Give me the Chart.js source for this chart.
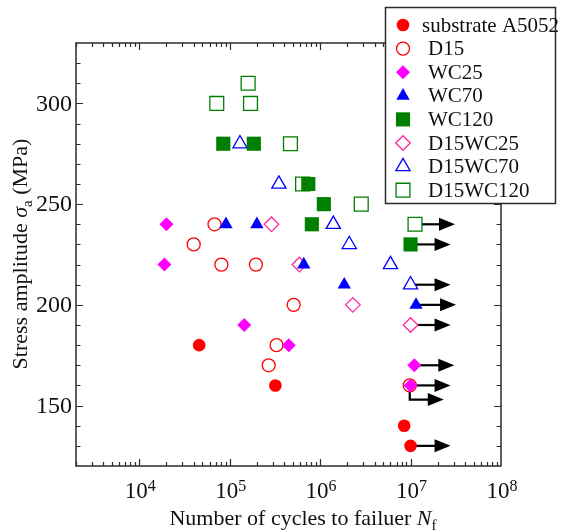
<!DOCTYPE html>
<html>
<head>
<meta charset="utf-8">
<script src="https://cdn.jsdelivr.net/npm/chart.js@4.4.0/dist/chart.umd.min.js"></script>
<style>
  html, body { margin: 0; padding: 0; background: #fff; }
  #wrap { width: 566px; height: 530px; }
</style>
</head>
<body>
<div id="wrap"><canvas id="snChart" width="566" height="530"></canvas></div>
<script>
// series names (legend order)
const seriesNames = ['substrate A5052', 'D15', 'WC25', 'WC70', 'WC120', 'D15WC25', 'D15WC70', 'D15WC120'];

// cycles to failure N_f and stress amplitude (MPa), one pair of arrays per series
const substrateN = [4.6e4, 3.2e5, 8.5e6, 1.0e7];
const substrateS = [180, 160, 140, 130];
const d15N = [6.8e4, 4.0e4, 8.1e4, 1.95e5, 5.1e5, 3.3e5, 2.7e5, 9.8e6];
const d15S = [240, 230, 220, 220, 200, 180, 170, 160];
const wc25N = [2.0e4, 1.9e4, 1.45e5, 4.5e5, 1.1e7, 1.0e7];
const wc25S = [240, 220, 190, 180, 170, 160];
const wc70N = [9.1e4, 2.0e5, 6.6e5, 1.85e6, 1.15e7];
const wc70S = [240, 240, 220, 210, 200];
const wc120N = [8.5e4, 1.85e5, 7.4e5, 1.1e6, 8.1e5, 1.0e7];
const wc120S = [280, 280, 260, 250, 240, 230];
const d15wc25N = [2.9e5, 5.9e5, 2.3e6, 1.0e7];
const d15wc25S = [240, 220, 200, 190];
const d15wc70N = [1.3e5, 3.5e5, 1.4e6, 2.1e6, 6.0e6, 1.0e7];
const d15wc70S = [280, 260, 240, 230, 220, 210];
const d15wc120N = [1.6e5, 7.2e4, 1.7e5, 4.7e5, 6.4e5, 2.85e6, 1.12e7];
const d15wc120S = [310, 300, 300, 280, 260, 250, 240];

// run-outs (no failure): start point and the stress level the arrow runs along
const runoutN = [1.0e7, 1.0e7, 9.8e6, 1.1e7, 1.0e7, 1.15e7, 1.0e7, 1.0e7, 1.12e7];
const runoutS = [130, 160, 160, 170, 190, 200, 210, 230, 240];
const runoutArrowS = [130, 160, 153, 170, 190, 200, 210, 230, 240];

// axes
const xMin = 2000, xMax = 1e8;
const yMin = 120, yMax = 330;
const xTickExp = [4, 5, 6, 7, 8];
const yTickLabels = [150, 200, 250, 300];
const yMinorStep = 10;

const serif = '"Liberation Serif", "Times New Roman", serif';
const frameColor = '#2b2b2b';

function pts(xs, ys) {
  return xs.map((x, i) => ({ x: x, y: ys[i] }));
}

const styles = [
  { pointStyle: 'circle', radius: 6.3, fill: '#ff0000', stroke: '#ff0000', bw: 0 },
  { pointStyle: 'circle', radius: 6.5, fill: '#ffffff', stroke: '#ff0000', bw: 1.3, order: 1 },
  { pointStyle: 'rectRot', radius: 7, fill: '#ff00ff', stroke: '#ff00ff', bw: 0 },
  { pointStyle: 'triangle', radius: 7.7, fill: '#0000ff', stroke: '#0000ff', bw: 0 },
  { pointStyle: 'rect', radius: 10, fill: '#007f00', stroke: '#007f00', bw: 0 },
  { pointStyle: 'rectRot', radius: 7.3, fill: '#ffffff', stroke: '#ff2a9f', bw: 1.3 },
  { pointStyle: 'triangle', radius: 8.2, fill: '#ffffff', stroke: '#0000ff', bw: 1.3 },
  { pointStyle: 'rect', radius: 9.8, fill: '#ffffff', stroke: '#007f00', bw: 1.3 }
];

const seriesData = [
  pts(substrateN, substrateS), pts(d15N, d15S), pts(wc25N, wc25S), pts(wc70N, wc70S),
  pts(wc120N, wc120S), pts(d15wc25N, d15wc25S), pts(d15wc70N, d15wc70S), pts(d15wc120N, d15wc120S)
];

const datasets = seriesNames.map((name, i) => ({
  label: name,
  data: seriesData[i],
  pointStyle: styles[i].pointStyle,
  pointRadius: styles[i].radius,
  pointBackgroundColor: styles[i].fill,
  pointBorderColor: styles[i].stroke,
  pointBorderWidth: styles[i].bw,
  showLine: false,
  order: styles[i].order || 0
}));

// text with sub/superscript pieces
function drawParts(ctx, parts, x, y, align) {
  let w = 0;
  parts.forEach(p => { ctx.font = p.font; w += ctx.measureText(p.text).width; });
  let cx = align === 'center' ? x - w / 2 : x;
  parts.forEach(p => {
    ctx.font = p.font;
    ctx.fillText(p.text, cx, y + (p.dy || 0));
    cx += ctx.measureText(p.text).width;
  });
}

const arrowPlugin = {
  id: 'runoutArrows',
  beforeDatasetsDraw(chart) {
    const ctx = chart.ctx, xs = chart.scales.x, ys = chart.scales.y;
    ctx.save();
    ctx.strokeStyle = '#000';
    ctx.fillStyle = '#000';
    ctx.lineWidth = 2.2;
    runoutN.forEach((n, i) => {
      const px = xs.getPixelForValue(n);
      const py = ys.getPixelForValue(runoutS[i]);
      const pa = ys.getPixelForValue(runoutArrowS[i]);
      // the bent arrow is drawn a little shorter, as in the source figure
      const tip = px + (pa !== py ? 34 : 40), head = 16;
      ctx.beginPath();
      ctx.moveTo(px, py);
      ctx.lineTo(px, pa);
      ctx.lineTo(tip - head + 1, pa);
      ctx.stroke();
      ctx.beginPath();
      ctx.moveTo(tip - head, pa - 6.5);
      ctx.lineTo(tip, pa);
      ctx.lineTo(tip - head, pa + 6.5);
      ctx.closePath();
      ctx.fill();
    });
    ctx.restore();
  }
};

const framePlugin = {
  id: 'frameAndLabels',
  afterDraw(chart) {
    const ctx = chart.ctx, a = chart.chartArea;
    const xs = chart.scales.x, ys = chart.scales.y;
    ctx.save();
    ctx.strokeStyle = frameColor;
    ctx.lineWidth = 1.5;
    ctx.strokeRect(a.left, a.top, a.right - a.left, a.bottom - a.top);

    // inward ticks on all four sides
    ctx.lineWidth = 1.2;
    ctx.beginPath();
    for (let d = 3; d <= 7; d++) {
      for (let k = 1; k <= 9; k++) {
        const v = k * Math.pow(10, d);
        if (v < xMin || v > xMax) continue;
        const px = Math.round(xs.getPixelForValue(v)) + 0.5;
        const len = k === 1 ? 7 : 4;
        ctx.moveTo(px, a.bottom); ctx.lineTo(px, a.bottom - len);
        ctx.moveTo(px, a.top); ctx.lineTo(px, a.top + len);
      }
    }
    for (let v = yMin + yMinorStep; v < yMax; v += yMinorStep) {
      const py = Math.round(ys.getPixelForValue(v)) + 0.5;
      const len = v % 50 === 0 ? 7 : 4.5;
      ctx.moveTo(a.left, py); ctx.lineTo(a.left + len, py);
      ctx.moveTo(a.right, py); ctx.lineTo(a.right - len, py);
    }
    ctx.stroke();

    // tick labels
    ctx.fillStyle = '#111';
    ctx.textBaseline = 'middle';
    ctx.textAlign = 'right';
    ctx.font = '24px ' + serif;
    yTickLabels.forEach(v => {
      ctx.fillText(String(v), a.left - 4, ys.getPixelForValue(v) + 1);
    });
    ctx.textAlign = 'left';
    ctx.textBaseline = 'alphabetic';
    xTickExp.forEach(e => {
      const px = xs.getPixelForValue(Math.pow(10, e));
      drawParts(ctx, [
        { text: '10', font: '23px ' + serif },
        { text: String(e), font: '16px ' + serif, dy: -7 }
      ], px + 1, 498, 'center');
    });

    // axis titles
    drawParts(ctx, [
      { text: 'Number of cycles to failuer ', font: '22px ' + serif },
      { text: 'N', font: 'italic 22px ' + serif },
      { text: 'f', font: '15px ' + serif, dy: 5 }
    ], 303, 525, 'center');
    ctx.save();
    ctx.translate(27, 254);
    ctx.rotate(-Math.PI / 2);
    drawParts(ctx, [
      { text: 'Stress amplitude ', font: '22px ' + serif },
      { text: 'σ', font: 'italic 22px ' + serif },
      { text: 'a', font: '15px ' + serif, dy: 5 },
      { text: ' (MPa)', font: '22px ' + serif }
    ], 0, 0, 'center');
    ctx.restore();

    // legend box
    const bx = 385.5, by = 7.5, bw = 170, bh = 196;
    ctx.fillStyle = '#fff';
    ctx.fillRect(bx, by, bw, bh);
    ctx.strokeStyle = frameColor;
    ctx.lineWidth = 1.5;
    ctx.strokeRect(bx, by, bw, bh);
    ctx.textBaseline = 'middle';
    ctx.font = '21px ' + serif;
    chart.data.datasets.forEach((ds, i) => {
      const ry = 25 + i * 23.6;
      ctx.fillStyle = ds.pointBackgroundColor;
      ctx.strokeStyle = ds.pointBorderColor;
      ctx.lineWidth = ds.pointBorderWidth;
      Chart.helpers.drawPoint(ctx, {
        pointStyle: ds.pointStyle, radius: ds.pointRadius,
        borderWidth: ds.pointBorderWidth, rotation: 0
      }, 403, ry);
      ctx.fillStyle = '#111';
      ctx.font = '21px ' + serif;
      ctx.fillText(ds.label, i === 0 ? 422 : 428, ry + 1);
    });
    ctx.restore();
  }
};

new Chart(document.getElementById('snChart'), {
  type: 'scatter',
  data: { datasets: datasets },
  options: {
    responsive: false,
    animation: false,
    events: [],
    layout: { padding: { left: 76, right: 65, top: 43, bottom: 64 } },
    plugins: { legend: { display: false }, tooltip: { enabled: false } },
    scales: {
      x: { type: 'logarithmic', min: xMin, max: xMax, display: false },
      y: { type: 'linear', min: yMin, max: yMax, display: false }
    }
  },
  plugins: [arrowPlugin, framePlugin]
});
</script>
</body>
</html>
